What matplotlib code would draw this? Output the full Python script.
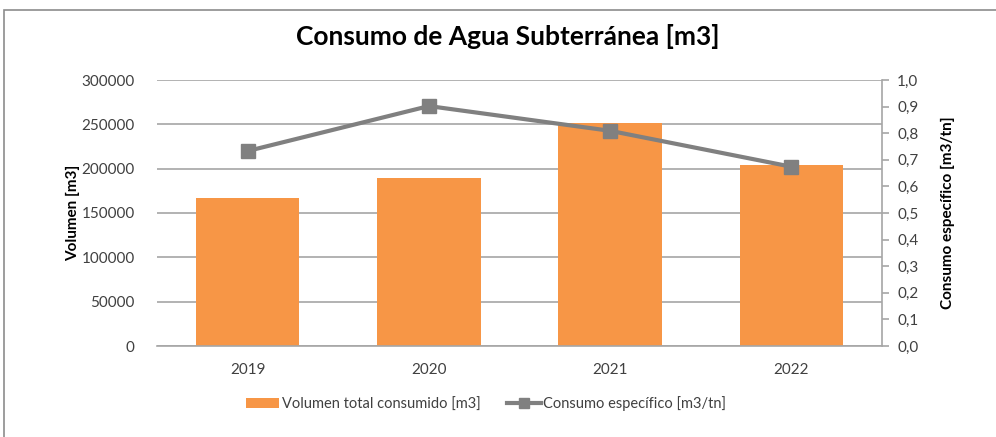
"""
Consumo de agua subterranea: bars for total volume, line for specific consumption
"""

import matplotlib.pyplot as plt
from matplotlib.patches import Rectangle
from matplotlib.ticker import FuncFormatter, MultipleLocator

YEARS = ["2019", "2020", "2021", "2022"]
VOLUMEN = [167000, 190000, 251000, 204000]
CONSUMO_ESP = [0.733, 0.902, 0.809, 0.674]

BAR_COLOR = "#F79646"
LINE_COLOR = "#808080"
GRID_COLOR = "#A6A6A6"
TEXT_COLOR = "#404040"

plt.rcParams["font.family"] = ["Lato", "DejaVu Sans"]

fig = plt.figure(figsize=(9.96, 4.37), dpi=100)

# outer chart frame (cropped on the right and bottom like the screenshot)
fig.patches.append(Rectangle((4 / 996, -0.1), 1.2, (437 - 10) / 437 + 0.1,
                             transform=fig.transFigure, fill=False,
                             edgecolor="#8C8C8C", linewidth=1.2))

ax = fig.add_axes([157 / 996, (437 - 346) / 437, (882 - 157) / 996, 266 / 437])
x = range(len(YEARS))
ax.bar(x, VOLUMEN, width=0.57, color=BAR_COLOR, label="Volumen total consumido [m3]",
       zorder=2)
ax.set_ylim(0, 300000)
ax.set_xlim(-0.5, len(YEARS) - 0.5)
ax.yaxis.set_major_locator(MultipleLocator(50000))
ax.grid(axis="y", color=GRID_COLOR, linewidth=1.2, zorder=0)
ax.set_axisbelow(True)
for side in ["top", "left", "right"]:
    ax.spines[side].set_visible(False)
ax.spines["bottom"].set_color(GRID_COLOR)
ax.spines["bottom"].set_linewidth(1.2)
ax.set_xticks(list(x))
ax.set_xticklabels(YEARS)
ax.tick_params(axis="x", length=0, pad=12, labelsize=11, labelcolor=TEXT_COLOR)
ax.tick_params(axis="y", length=0, pad=16, labelsize=11, labelcolor=TEXT_COLOR)
ax.set_ylabel("Volumen [m3]", fontsize=11, fontweight="bold", labelpad=1)

ax2 = ax.twinx()
ax2.plot(x, CONSUMO_ESP, color=LINE_COLOR, linewidth=3, marker="s", markersize=10,
         label="Consumo específico [m3/tn]", zorder=3)
ax2.set_ylim(0, 1.0)
ax2.yaxis.set_major_locator(MultipleLocator(0.1))
ax2.yaxis.set_major_formatter(FuncFormatter(lambda v, _: f"{v:.1f}".replace(".", ",")))
for side in ["top", "left", "bottom"]:
    ax2.spines[side].set_visible(False)
ax2.spines["right"].set_color(GRID_COLOR)
ax2.spines["right"].set_linewidth(1.2)
ax2.tick_params(axis="y", direction="out", length=5, width=1.2, color=GRID_COLOR,
                labelsize=11, labelcolor=TEXT_COLOR, pad=6)
ax2.set_ylabel("Consumo específico [m3/tn]", fontsize=11, fontweight="bold",
               labelpad=16)

fig.suptitle("Consumo de Agua Subterránea [m3]", x=508 / 996, y=0.945,
             fontsize=19, fontweight="bold")

h1, l1 = ax.get_legend_handles_labels()
h2, l2 = ax2.get_legend_handles_labels()
fig.legend(h1 + h2, l1 + l2, loc="center", bbox_to_anchor=(486 / 996, 1 - 404 / 437),
           ncol=2, frameon=False, fontsize=10.5, handlelength=2.3, handletextpad=0.2,
           columnspacing=1.8, labelcolor=TEXT_COLOR, markerscale=0.7)

fig.savefig("out.png", dpi=100)
